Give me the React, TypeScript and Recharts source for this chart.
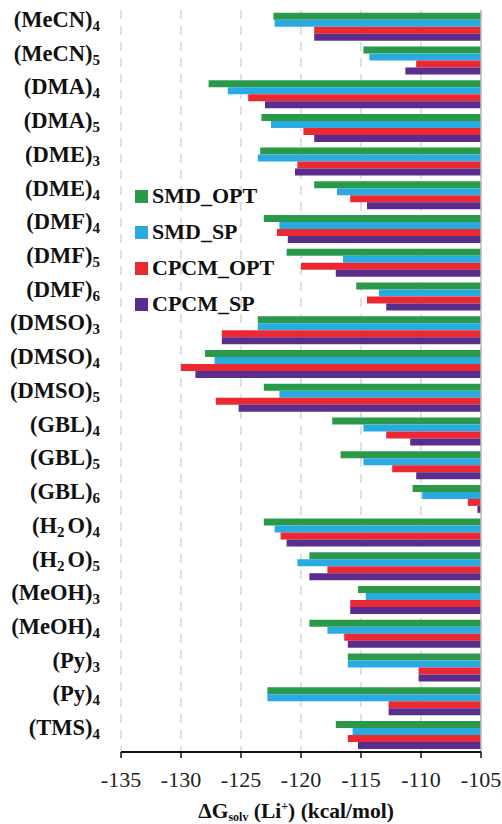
import { BarChart, Bar, XAxis, YAxis, CartesianGrid, ReferenceLine } from 'recharts';

document.body.style.margin = '0';

// solvent clusters, top to bottom; digits are drawn as subscripts
const clusters = [
  '(MeCN)4', '(MeCN)5', '(DMA)4', '(DMA)5', '(DME)3', '(DME)4', '(DMF)4', '(DMF)5',
  '(DMF)6', '(DMSO)3', '(DMSO)4', '(DMSO)5', '(GBL)4', '(GBL)5', '(GBL)6', '(H2O)4',
  '(H2O)5', '(MeOH)3', '(MeOH)4', '(Py)3', '(Py)4', '(TMS)4',
];

// ΔGsolv (Li+), kcal/mol
const smdOpt = [
  -122.3, -114.8, -127.7, -123.3, -123.4, -118.9, -123.1, -121.2, -115.4, -123.6, -128.0,
  -123.1, -117.4, -116.7, -110.7, -123.1, -119.3, -115.25, -119.3, -116.1, -122.8, -117.1,
];
const smdSp = [
  -122.2, -114.3, -126.1, -122.5, -123.6, -117.0, -121.8, -116.5, -113.5, -123.6, -127.2,
  -121.8, -114.8, -114.8, -109.9, -122.2, -120.3, -114.6, -117.8, -116.1, -122.8, -115.7,
];
const cpcmOpt = [
  -118.9, -110.4, -124.4, -119.8, -120.3, -115.9, -122.0, -120.0, -114.5, -126.6, -130.0,
  -127.1, -112.9, -112.4, -106.1, -121.7, -117.8, -115.9, -116.4, -110.2, -112.7, -116.1,
];
const cpcmSp = [
  -118.9, -111.3, -123.0, -118.9, -120.5, -114.5, -121.1, -117.1, -112.9, -126.6, -128.8,
  -125.2, -110.9, -110.4, -105.3, -121.2, -119.3, -115.9, -116.1, -110.2, -112.7, -115.25,
];

const xTicks = [-135, -130, -125, -120, -115, -110, -105];

const seriesNames = ['SMD_OPT', 'SMD_SP', 'CPCM_OPT', 'CPCM_SP'];
const seriesColors = ['#2a9a4a', '#29abe2', '#ec2830', '#5a2d8c'];

const data = clusters.map((name, i) => ({
  name,
  SMD_OPT: smdOpt[i],
  SMD_SP: smdSp[i],
  CPCM_OPT: cpcmOpt[i],
  CPCM_SP: cpcmSp[i],
}));

const FONT = '"Liberation Serif", "Times New Roman", serif';

const ClusterTick = (props: any) => {
  const { x, y, payload } = props;
  const parts: string[] = String(payload.value).match(/\d+|\D+/g) || [];
  let shifted = false;
  return (
    <text
      x={x - 13}
      y={y}
      dy={7}
      textAnchor="end"
      style={{ fontFamily: FONT }}
      fontWeight="bold"
      fontSize={22.5}
      fill="#111"
    >
      {parts.map((p, i) => {
        if (/\d/.test(p)) {
          shifted = true;
          return (
            <tspan key={i} fontSize={15} dy={4}>
              {p}
            </tspan>
          );
        }
        const dy = shifted ? -4 : 0;
        const dx = shifted ? 3 : 0;
        shifted = false;
        return (
          <tspan key={i} dy={dy} dx={dx}>
            {p}
          </tspan>
        );
      })}
    </text>
  );
};

const ValueTick = (props: any) => {
  const { x, y, payload } = props;
  return (
    <text
      x={x}
      y={y}
      dy={17}
      textAnchor="middle"
      style={{ fontFamily: FONT }}
      fontSize={22}
      fill="#222"
    >
      {payload.value}
    </text>
  );
};

export default function App() {
  return (
    <div style={{ position: 'relative', width: 502, height: 824, fontFamily: FONT, background: '#fff' }}>
      <BarChart
        width={502}
        height={824}
        data={data}
        layout="vertical"
        margin={{ top: 10, right: 21, left: 0, bottom: 0 }}
        barCategoryGap="8%"
        barGap={0}
      >
        <CartesianGrid
          horizontal={false}
          stroke="#d6d6d6"
          strokeWidth={1.5}
          strokeDasharray="9 7"
        />
        <XAxis
          type="number"
          domain={[-135, -105]}
          ticks={xTicks}
          allowDataOverflow
          axisLine={{ stroke: '#111', strokeWidth: 2 }}
          tickLine={{ stroke: '#111', strokeWidth: 1.5 }}
          tickSize={6}
          tickMargin={12}
          tick={<ValueTick />}
          height={72}
        />
        <YAxis
          type="category"
          dataKey="name"
          width={121}
          axisLine={false}
          tickLine={false}
          interval={0}
          tick={<ClusterTick />}
        />
        <ReferenceLine x={-105} stroke="#bdbdbd" strokeWidth={1.5} />
        {seriesNames.map((s, i) => (
          <Bar key={s} dataKey={s} fill={seriesColors[i]} isAnimationActive={false} />
        ))}
      </BarChart>

      <div style={{ position: 'absolute', left: 135, top: 178 }}>
        {seriesNames.map((s, i) => (
          <div
            key={s}
            style={{
              display: 'flex',
              alignItems: 'center',
              height: 36,
              fontSize: 22,
              fontWeight: 'bold',
              color: '#111',
            }}
          >
            <span style={{ width: 13, height: 13, background: seriesColors[i], marginRight: 4 }} />
            <span>{s}</span>
          </div>
        ))}
      </div>

      <div
        style={{
          position: 'absolute',
          left: 96,
          width: 400,
          top: 801,
          lineHeight: '20px',
          textAlign: 'center',
          fontSize: 21.5,
          fontWeight: 'bold',
          color: '#111',
          whiteSpace: 'nowrap',
        }}
      >
        ΔG
        <span style={{ fontSize: 12, verticalAlign: '-3px', lineHeight: 0 }}>solv</span> (Li
        <span style={{ fontSize: 12, verticalAlign: '8px', lineHeight: 0 }}>+</span>) (kcal/mol)
      </div>
    </div>
  );
}
